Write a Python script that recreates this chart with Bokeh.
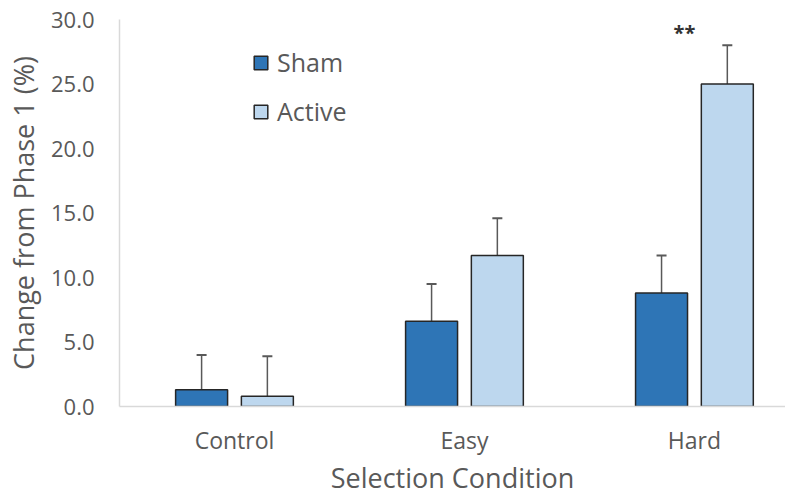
from bokeh.plotting import figure
from bokeh.models import (ColumnDataSource, Range1d, FixedTicker, Whisker, Legend,
                          LegendItem, TeeHead, NumeralTickFormatter)
from bokeh.core.properties import value
from bokeh.embed import file_html
from bokeh.resources import INLINE

categories = ["Control", "Easy", "Hard"]
series = ["Sham", "Active"]
sham = [1.3, 6.6, 8.8]
sham_err = [2.7, 2.9, 2.9]
active = [0.8, 11.7, 25.0]
active_err = [3.1, 2.9, 3.0]
sig_labels = ["", "", "**"]
sig_y = 29.0
x_title = "Selection Condition"
y_title = "Change from Phase 1 (%)"

FONT = "Open Sans"
GREY = "#595959"
SHAM_C = "#2E75B6"
ACT_C = "#BDD7EE"

idx = list(range(len(categories)))
off = 0.143
bw = 0.226

src_s = ColumnDataSource(dict(x=[i + 0.5 - off for i in idx], top=sham,
                              up=[v + e for v, e in zip(sham, sham_err)]))
src_a = ColumnDataSource(dict(x=[i + 0.5 + off for i in idx], top=active,
                              up=[v + e for v, e in zip(active, active_err)]))
src_sig = ColumnDataSource(dict(x=[i + 0.5 for i in idx], lab=sig_labels))

p = figure(width=785, height=498, output_backend="svg", toolbar_location=None,
           x_range=Range1d(0.0, 2.896), y_range=Range1d(0, 30),
           min_border_left=119, min_border_right=0, min_border_top=19,
           min_border_bottom=60)
p.outline_line_color = None
p.grid.grid_line_color = None

r_s = p.vbar(x="x", top="top", bottom=0, width=bw, source=src_s,
             fill_color=SHAM_C, line_color="#262626", line_width=1.5)
r_a = p.vbar(x="x", top="top", bottom=0, width=bw, source=src_a,
             fill_color=ACT_C, line_color="#262626", line_width=1.5)

for src in (src_s, src_a):
    w = Whisker(source=src, base="x", lower="top", upper="up",
                line_color=GREY, line_width=1.5, lower_head=None,
                upper_head=TeeHead(size=10, line_color=GREY, line_width=2))
    w.level = "underlay"
    p.add_layout(w)

p.text(x="x", y=sig_y, text="lab", source=src_sig, text_align="center",
       text_baseline="middle", text_font=value(FONT), text_font_size="20px",
       text_font_style="bold", text_color="#333333", x_offset=-10)

# axes
p.xaxis.ticker = FixedTicker(ticks=[i + 0.5 for i in idx])
p.xaxis.major_label_overrides = {i + 0.5: c for i, c in zip(idx, categories)}
p.yaxis.ticker = FixedTicker(ticks=[0, 5, 10, 15, 20, 25, 30])
p.yaxis.formatter = NumeralTickFormatter(format="0.0")
for ax in (p.xaxis, p.yaxis):
    ax.axis_line_color = "#D9D9D9"
    ax.axis_line_width = 1.5
    ax.major_tick_line_color = None
    ax.minor_tick_line_color = None
    ax.major_label_text_font = FONT
    ax.major_label_text_color = GREY
    ax.axis_label_text_font = FONT
    ax.axis_label_text_font_size = "27px"
    ax.axis_label_text_color = GREY
    ax.axis_label_text_font_style = "normal"
p.yaxis.major_label_text_font_size = "22px"
p.xaxis.major_label_text_font_size = "23px"
p.yaxis.major_label_standoff = 19
p.xaxis.major_label_standoff = 11
p.xaxis.axis_label = x_title
p.yaxis.axis_label = y_title
p.xaxis.axis_label_standoff = 0
p.yaxis.axis_label_standoff = 6

legend = Legend(items=[LegendItem(label=series[0], renderers=[r_s]),
                       LegendItem(label=series[1], renderers=[r_a])],
                location=(133, 278), orientation="vertical",
                label_text_font=FONT, label_text_font_size="25px",
                label_text_color=GREY, glyph_width=17, glyph_height=17,
                spacing=15, padding=0, border_line_color=None,
                background_fill_alpha=0, label_standoff=8)
p.add_layout(legend)

open("out.html", "w").write(file_html(p, INLINE))
